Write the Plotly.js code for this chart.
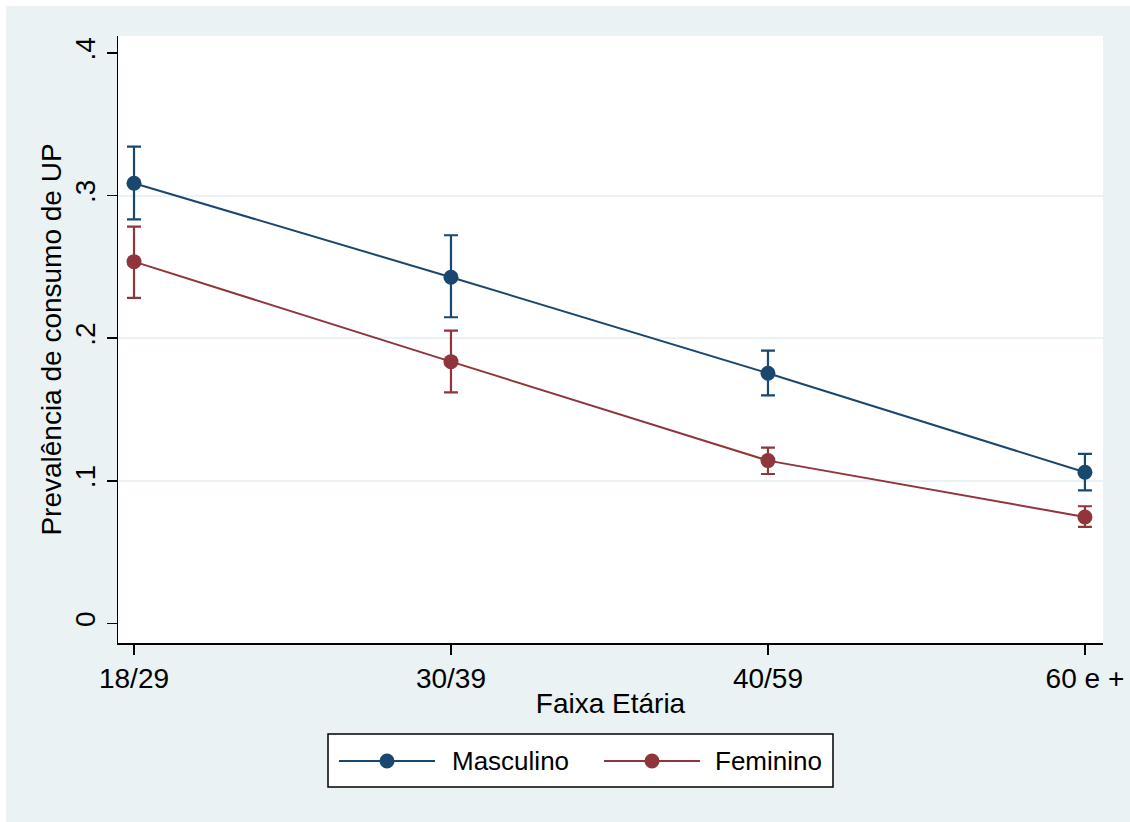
<!DOCTYPE html>
<html>
<head>
<meta charset="utf-8">
<script src="https://cdn.plot.ly/plotly-3.0.1.min.js"></script>
<style>
  html, body { margin: 0; padding: 0; background: #ffffff; }
  #chart { position: absolute; left: 6px; top: 6px; width: 1124px; height: 816px; }
</style>
</head>
<body>
<div id="chart"></div>
<script>
// ---- data ----
const categories = ['18/29', '30/39', '40/59', '60 e +'];
const masculino   = [0.3087, 0.2428, 0.1755, 0.1060];
const mascLower   = [0.2834, 0.2147, 0.1600, 0.0934];
const mascUpper   = [0.3344, 0.2722, 0.1913, 0.1189];
const feminino    = [0.2537, 0.1836, 0.1142, 0.0747];
const femLower    = [0.2283, 0.1621, 0.1048, 0.0677];
const femUpper    = [0.2783, 0.2053, 0.1233, 0.0822];
const yTickVals   = [0, 0.1, 0.2, 0.3, 0.4];
const yTickText   = ['0', '.1', '.2', '.3', '.4'];
const gridVals    = [0.1, 0.2, 0.3];
const seriesNames = ['Masculino', 'Feminino'];

const NAVY = '#1a476f';
const MAROON = '#90353b';
const BG = '#eaf2f3';
const FONT = 'Liberation Sans, Arial, Helvetica, sans-serif';
const AX = 28;

const xIdx = categories.map((c, i) => i);

function mkTrace(name, vals, lo, hi, color) {
  return {
    type: 'scatter', mode: 'lines+markers', name: name,
    x: xIdx, y: vals,
    line: { color: color, width: 2 },
    marker: { color: color, size: 15, symbol: 'circle' },
    error_y: {
      type: 'data', symmetric: false,
      array: hi.map((h, i) => h - vals[i]),
      arrayminus: vals.map((v, i) => v - lo[i]),
      color: color, thickness: 2.2, width: 7
    },
    showlegend: false, hoverinfo: 'skip'
  };
}

const traces = [
  { type: 'scatter', x: [0], y: [0], xaxis: 'x', yaxis: 'y2', mode: 'markers',
    marker: { opacity: 0 }, showlegend: false, hoverinfo: 'skip' },
  mkTrace(seriesNames[0], masculino, mascLower, mascUpper, NAVY),
  mkTrace(seriesNames[1], feminino, femLower, femUpper, MAROON)
];

// plot area geometry in page pixels (for legend decorations)
const PL = 118, PR = 1103, PT = 36, PB = 643;
const pw = PR - PL, ph = PB - PT;
const px = v => (v - PL) / pw;
const py = v => (PB - v) / ph;

const legY = 761;
const legendItems = [
  { name: seriesNames[0], color: NAVY, lx0: 339, lx1: 435, tx: 450 },
  { name: seriesNames[1], color: MAROON, lx0: 604, lx1: 700, tx: 713 }
];

const shapes = [
  { type: 'rect', xref: 'paper', yref: 'paper',
    x0: px(328), x1: px(833), y0: py(734), y1: py(787),
    fillcolor: '#ffffff', line: { color: '#000000', width: 1.5 }, layer: 'above' }
];
const annotations = [];
legendItems.forEach(it => {
  shapes.push({ type: 'line', xref: 'paper', yref: 'paper',
    x0: px(it.lx0), x1: px(it.lx1), y0: py(legY), y1: py(legY),
    line: { color: it.color, width: 2 }, layer: 'above' });
  const cx = (it.lx0 + it.lx1) / 2;
  shapes.push({ type: 'circle', xref: 'paper', yref: 'paper',
    x0: px(cx - 7.5), x1: px(cx + 7.5), y0: py(legY - 7.5), y1: py(legY + 7.5),
    fillcolor: it.color, line: { color: it.color, width: 0 }, layer: 'above' });
  annotations.push({ xref: 'paper', yref: 'paper', x: px(it.tx), y: py(legY),
    xanchor: 'left', yanchor: 'middle', showarrow: false, text: it.name,
    font: { family: FONT, size: 26, color: '#000000' } });
});

const layout = {
  width: 1124, height: 816,
  margin: { l: PL - 6, r: 1124 - (PR - 6), t: PT - 6, b: 816 - (PB - 6) },
  paper_bgcolor: BG, plot_bgcolor: '#ffffff',
  font: { family: FONT, size: AX, color: '#000000' },
  xaxis: {
    range: [-0.0505, 3.057], tickmode: 'array', tickvals: xIdx, ticktext: categories,
    showgrid: false, zeroline: false,
    showline: true, linecolor: '#000000', linewidth: 1.5,
    ticks: 'outside', ticklen: 10, tickwidth: 1.5, tickcolor: '#000000',
    tickfont: { family: FONT, size: AX, color: '#000000' },
    title: { text: 'Faixa Etária', standoff: 0, font: { family: FONT, size: AX, color: '#000000' } }
  },
  yaxis: {
    range: [-0.01367, 0.4119], tickmode: 'array', tickvals: yTickVals, ticktext: yTickText,
    showgrid: false, zeroline: false,
    showline: true, linecolor: '#000000', linewidth: 1.5,
    ticks: 'outside', ticklen: 10, tickwidth: 1.5, tickcolor: '#000000',
    tickangle: -90,
    tickfont: { family: FONT, size: AX, color: '#000000' },
    title: { text: 'Prevalência de consumo de UP', standoff: 0, font: { family: FONT, size: AX, color: '#000000' } }
  },
  yaxis2: {
    overlaying: 'y', range: [-0.01367, 0.4119], tickmode: 'array', tickvals: gridVals,
    showticklabels: false, ticks: '', showgrid: true, gridcolor: BG, gridwidth: 2,
    zeroline: false, showline: false
  },
  shapes: shapes,
  annotations: annotations,
  showlegend: false
};

Plotly.newPlot('chart', traces, layout, { displayModeBar: false, staticPlot: true });
</script>
</body>
</html>
